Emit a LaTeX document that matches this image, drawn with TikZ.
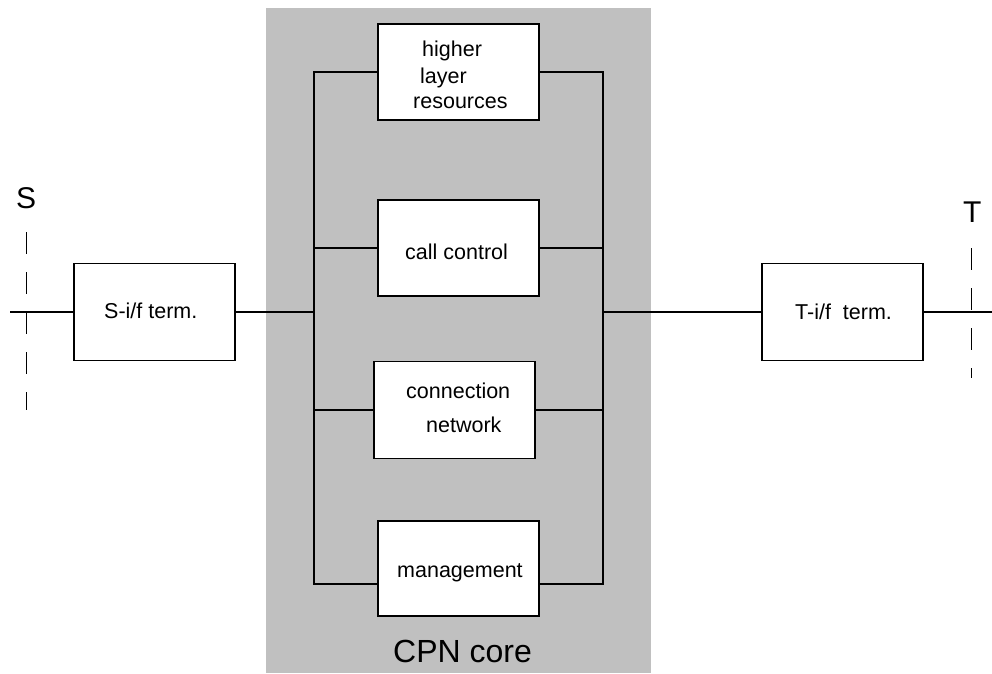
\documentclass[tikz,border=0pt]{standalone}
\usepackage{fontspec}
\setmainfont{Liberation Sans}
\definecolor{coregray}{HTML}{C0C0C0}
\begin{document}
\begin{tikzpicture}[x=1pt,y=-1pt,
  blk/.style={draw=black, line width=1.8pt, fill=white, rectangle, inner sep=0pt, minimum width=161pt},
  wire/.style={line width=1.8pt},
  refline/.style={line width=1pt, dash pattern=on 22pt off 18pt},
  txt/.style={anchor=base west, inner sep=0pt, font=\fontsize{21.5}{26}\selectfont},
  big/.style={anchor=base west, inner sep=0pt, font=\fontsize{30}{36}\selectfont}]
\useasboundingbox (0,0) rectangle (992,673);
% CPN core background
\fill[coregray] (266,8) rectangle (651,673);
% boxes
\node[blk, minimum height=96pt] (hlr) at (458.5,72) {};
\node[blk, minimum height=96pt] (cc) at (458.5,248) {};
\node[blk, minimum height=97pt] (cn) at (454.5,410) {};
\node[blk, minimum height=95pt] (mg) at (458.5,568.5) {};
\node[blk, minimum height=97pt] (sb) at (154.5,312) {};
\node[blk, minimum height=97pt] (tb) at (842.5,312) {};
% bus coordinates
\coordinate (L1) at (314,72);
\coordinate (L4) at (314,584);
\coordinate (R1) at (603,72);
\coordinate (R4) at (603,584);
\coordinate (inS) at (10,312);
\coordinate (outT) at (992,312);
% left bus
\draw[wire] (hlr.west) -- (L1) -- (L4) -- (L4 -| mg.west);
\draw[wire] (cc.west) -- (cc.west -| L1);
\draw[wire] (cn.west) -- (cn.west -| L1);
% right bus
\draw[wire] (hlr.east) -- (R1) -- (R4) -- (R4 -| mg.east);
\draw[wire] (cc.east) -- (cc.east -| R1);
\draw[wire] (cn.east) -- (cn.east -| R1);
% main line
\draw[wire] (inS) -- (sb.west);
\draw[wire] (sb.east) -- (sb.east -| L1);
\draw[wire] (tb.west) -- (tb.west -| R1);
\draw[wire] (tb.east) -- (outT);
% reference points
\coordinate (sTop) at (26,232);
\coordinate (sBot) at (26,410);
\coordinate (tTop) at (971,248);
\coordinate (tBot) at (971,378);
\draw[refline] (sTop) -- (sBot);
\draw[refline] (tTop) -- (tBot);
% texts
\node[txt] (t1) at (422,56) {higher};
\node[txt] (t2) at (420,83) {layer};
\node[txt] (t3) at (413,108) {resources};
\node[txt] (t4) at (405,259) {call control};
\node[txt] (t5) at (406,398) {connection};
\node[txt] (t6) at (426,432) {network};
\node[txt] (t7) at (397,577) {management};
\node[txt] (t8) at (104,318) {S-i/f term.};
\node[txt] (t9) at (795,319) {T-i/f\ \ term.};
\node[big] (sl) at (16,208) {S};
\node[big] (tl) at (963,222) {T};
\node[big, font=\fontsize{32}{38}\selectfont] (core) at (393,662) {CPN core};
\end{tikzpicture}
\end{document}
